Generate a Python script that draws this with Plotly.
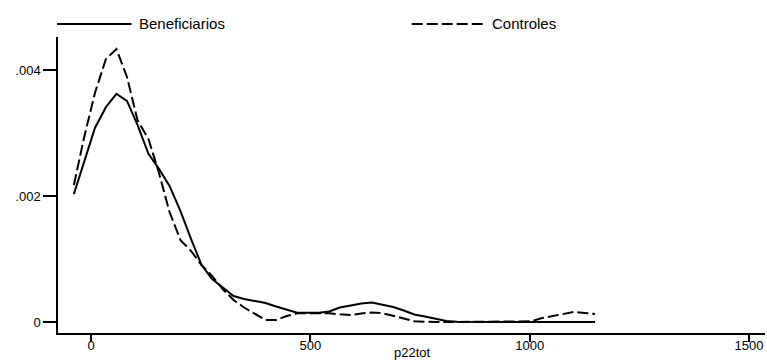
import plotly.graph_objects as go

x_grid = [-39, -15, 9, 34, 58, 82, 106, 131, 155, 179, 204, 228, 252, 276, 301, 325,
          349, 373, 398, 422, 446, 470, 495, 519, 543, 567, 592, 616, 640, 664, 689,
          713, 737, 761, 786, 810, 834, 858, 883, 907, 931, 955, 980, 1004, 1028, 1052,
          1077, 1101, 1125, 1149]

beneficiarios = [0.00203, 0.00257, 0.00308, 0.00341, 0.00362, 0.00351, 0.00313, 0.00267,
                 0.00243, 0.00216, 0.00176, 0.00132, 0.000905, 0.000683, 0.00054, 0.000413,
                 0.000365, 0.000333, 0.000302, 0.000246, 0.000198, 0.000148, 0.000148,
                 0.000148, 0.000167, 0.00023, 0.000262, 0.000294, 0.00031, 0.00027,
                 0.000238, 0.000183, 0.000119, 0.000087, 0.000056, 0.000016, 0.000002,
                 0.0, 0.0, 0.0, 0.0, 0.0, 0.0, 0.0, 0.0, 0.0, 0.0, 0.0, 0.0, 0.0]

controles = [0.002175, 0.00295, 0.003635, 0.004175, 0.004333, 0.00389, 0.003206, 0.002905,
             0.002365, 0.001746, 0.0013, 0.001127, 0.000905, 0.00073, 0.000516, 0.000349,
             0.00023, 0.000127, 0.000032, 0.000032, 0.000095, 0.000138, 0.000138, 0.000138,
             0.000138, 0.000122, 0.000111, 0.000135, 0.000151, 0.00014, 0.000103, 0.000056,
             0.000011, 0.0, 0.0, 0.0, 0.0, 0.0, 0.0, 0.0, 0.0, 0.0, 0.0, 0.000011,
             0.000063, 0.000098, 0.00013, 0.000159, 0.000143, 0.000127]

x_ticks = [0, 500, 1000, 1500]
x_tick_labels = ["0", "500", "1000", "1500"]
y_ticks = [0, 0.002, 0.004]
y_tick_labels = ["0", ".002", ".004"]
series_names = ["Beneficiarios", "Controles"]
x_title = "p22tot"

FONT = "Arial, Liberation Sans, sans-serif"
X_RANGE = [-75.2, 1536.4]
Y_RANGE = [-0.0001746, 0.0045238]
PLOT_W, PLOT_H = 707, 296

fig = go.Figure()
fig.add_trace(go.Scatter(x=x_grid, y=beneficiarios, mode="lines", name=series_names[0],
                         line=dict(color="black", width=2), showlegend=False))
fig.add_trace(go.Scatter(x=x_grid, y=controles, mode="lines", name=series_names[1],
                         line=dict(color="black", width=2, dash="11px,4px"), showlegend=False))

# tick marks (explicit, in case axis ticks are not rendered)
for t in x_ticks:
    fx = (t - X_RANGE[0]) / (X_RANGE[1] - X_RANGE[0])
    fig.add_shape(type="line", xref="paper", yref="paper", x0=fx, x1=fx,
                  y0=0, y1=-7 / PLOT_H, line=dict(color="black", width=1.5))
for t in y_ticks:
    fy = (t - Y_RANGE[0]) / (Y_RANGE[1] - Y_RANGE[0])
    fig.add_shape(type="line", xref="paper", yref="paper", x0=0, x1=-13 / PLOT_W,
                  y0=fy, y1=fy, line=dict(color="black", width=1.5))

# legend keys drawn above the plot
fig.add_shape(type="line", xref="paper", yref="paper", x0=-0.0014, x1=0.104, y0=1.044, y1=1.044,
              line=dict(color="black", width=2))
fig.add_shape(type="line", xref="paper", yref="paper", x0=0.5003, x1=0.6064, y0=1.044, y1=1.044,
              line=dict(color="black", width=2, dash="11px,4px"))
fig.add_annotation(xref="paper", yref="paper", x=0.1113, y=1.044, text=series_names[0],
                   showarrow=False, xanchor="left", yanchor="middle",
                   font=dict(family=FONT, size=15, color="black"))
fig.add_annotation(xref="paper", yref="paper", x=0.611, y=1.044, text=series_names[1],
                   showarrow=False, xanchor="left", yanchor="middle",
                   font=dict(family=FONT, size=15, color="black"))
# x axis title
fig.add_annotation(xref="paper", yref="paper", x=0.502, y=-0.066, text=x_title,
                   showarrow=False, xanchor="center", yanchor="middle",
                   font=dict(family=FONT, size=13, color="black"))

fig.update_layout(
    width=767, height=361,
    margin=dict(l=58, r=2, t=37, b=28),
    paper_bgcolor="white", plot_bgcolor="white",
    font=dict(family=FONT, size=13, color="black"),
    xaxis=dict(range=X_RANGE, tickvals=x_ticks, ticktext=x_tick_labels,
               showline=True, linecolor="black", linewidth=1.5, showgrid=False, zeroline=False,
               ticks="outside", ticklen=7, tickwidth=1.5, tickcolor="black",
               ticklabelstandoff=-7, automargin=False),
    yaxis=dict(range=Y_RANGE, tickvals=y_ticks, ticktext=y_tick_labels,
               showline=True, linecolor="black", linewidth=1.5, showgrid=False, zeroline=False,
               ticks="outside", ticklen=13, tickwidth=1.5, tickcolor="black", automargin=False),
)

fig.write_html("out.html")
